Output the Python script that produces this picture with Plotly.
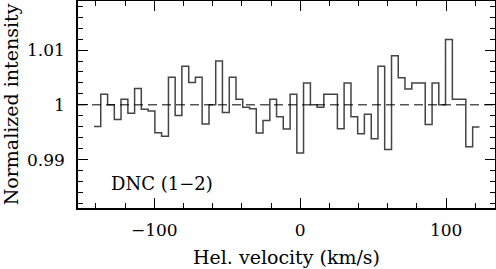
import plotly.graph_objects as go

# Channel centres (km/s) and normalized intensity
velocity = [-139.0, -134.4, -129.7, -125.1, -120.5, -115.8, -111.2, -106.6, -101.9, -97.3,
            -92.7, -88.0, -83.4, -78.8, -74.1, -69.5, -64.9, -60.2, -55.6, -51.0,
            -46.3, -41.7, -37.1, -32.4, -27.8, -23.2, -18.5, -13.9, -9.3, -4.6,
            0.0, 4.6, 9.3, 13.9, 18.5, 23.2, 27.8, 32.4, 37.1, 41.7,
            46.3, 51.0, 55.6, 60.2, 64.9, 69.5, 74.1, 78.8, 83.4, 88.0,
            92.7, 97.3, 101.9, 106.6, 111.2, 115.8, 120.5]
intensity = [0.99606, 1.00194, 1.00000, 0.99733, 1.00103, 0.99848, 1.00297, 0.99921, 0.99885, 0.99491,
             0.99424, 1.00503, 0.99806, 1.00703, 1.00406, 1.00503, 0.99648, 1.00000, 1.00800, 0.99861,
             1.00503, 1.00103, 0.99958, 0.99927, 0.99485, 0.99715, 1.00103, 0.99782, 0.99558, 1.00194,
             0.99121, 1.00400, 1.00000, 0.99958, 1.00194, 1.00194, 0.99564, 1.00400, 0.99782, 0.99473,
             0.99830, 0.99382, 1.00703, 0.99182, 1.00897, 1.00497, 1.00291, 1.00400, 1.00400, 0.99642,
             1.00400, 1.00000, 1.01194, 1.00103, 1.00103, 0.99236, 0.99594]
channel_width = 4.63
label = "DNC (1\u22122)"

# step edges built from channel centres
x_edges = [v - channel_width / 2 for v in velocity] + [velocity[-1] + channel_width / 2]
y_steps = intensity + [intensity[-1]]

font_family = "DejaVu Serif"

fig = go.Figure()
fig.add_trace(go.Scatter(x=x_edges, y=y_steps, mode="lines", line_shape="hv",
                         line=dict(color="#444444", width=1.5), showlegend=False,
                         hoverinfo="skip"))
fig.add_shape(type="line", xref="paper", x0=0, x1=1, yref="y", y0=1, y1=1,
              line=dict(color="black", width=1, dash="9px,5px"))
fig.add_annotation(x=-131.2, y=0.98556, text=label, showarrow=False, xanchor="left",
                   yanchor="middle", font=dict(family=font_family, size=18, color="black"))

fig.update_layout(
    width=496, height=269,
    margin=dict(l=78, r=1, t=1, b=61),
    paper_bgcolor="white", plot_bgcolor="white",
    font=dict(family=font_family, size=17, color="black"),
)
fig.update_xaxes(range=[-152.3, 133.5], showgrid=False, zeroline=False, automargin=False,
                 showline=True, linecolor="black", linewidth=1.5, mirror="ticks",
                 ticks="inside", ticklen=10, tickwidth=1, tickcolor="black",
                 tick0=0, dtick=100, ticklabelstandoff=6,
                 minor=dict(ticks="inside", ticklen=5, dtick=20, tick0=0, tickcolor="black", showgrid=False),
                 title=dict(text="Hel. velocity (km/s)", font=dict(size=19), standoff=12))
fig.update_yaxes(range=[0.98115, 1.01897], showgrid=False, zeroline=False, automargin=False,
                 showline=True, linecolor="black", linewidth=1.5, mirror="ticks",
                 ticks="inside", ticklen=10, tickwidth=1, tickcolor="black",
                 tick0=1, dtick=0.01, ticklabelstandoff=8,
                 minor=dict(ticks="inside", ticklen=5, dtick=0.002, tick0=1, tickcolor="black", showgrid=False),
                 title=dict(text="Normalized intensity", font=dict(size=19), standoff=6))

fig.write_html("out.html", config={"displayModeBar": False},
               post_script="document.body.style.margin='0';document.body.style.padding='0';")
